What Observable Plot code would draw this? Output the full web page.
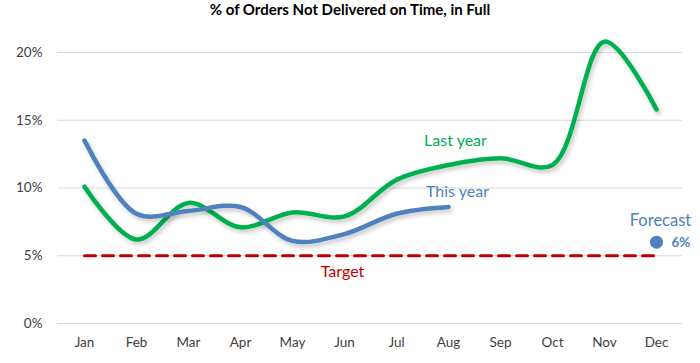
<!DOCTYPE html>
<html>
<head>
<meta charset="utf-8">
<script src="https://cdn.jsdelivr.net/npm/d3@7"></script>
<script src="https://cdn.jsdelivr.net/npm/@observablehq/plot@0.6"></script>
<style>
  body { margin: 0; background: #fff; }
  #title { height: 36px; line-height: 36px; text-align: center; font: bold 15px Lato, "Open Sans", sans-serif; color: #000; }
  #chart svg { display: block; }
</style>
</head>
<body>
<div id="title">% of Orders Not Delivered on Time, in Full</div>
<div id="chart"></div>
<script>
const months = ["Jan","Feb","Mar","Apr","May","Jun","Jul","Aug","Sep","Oct","Nov","Dec"];
const lastYear = [0.101, 0.062, 0.089, 0.071, 0.082, 0.079, 0.106, 0.117, 0.122, 0.117, 0.208, 0.158];
const thisYear = [0.135, 0.081, 0.083, 0.086, 0.061, 0.066, 0.081, 0.086];
const target = 0.05;
const forecastMonth = "Dec";
const forecastValue = 0.06;
const yTicks = [0, 0.05, 0.10, 0.15, 0.20];

const lastData = months.map((m, i) => ({month: m, value: lastYear[i]}));
const thisData = thisYear.map((v, i) => ({month: months[i], value: v}));
const targetData = months.map(m => ({month: m, value: target}));
const forecastData = [{month: forecastMonth, value: forecastValue}];

const green = "#00B050", blue = "#4F81BD", red = "#C00000";
const font = "Lato, 'Open Sans', sans-serif";

const chart = Plot.plot({
  width: 700,
  height: 327,
  marginTop: 16,
  marginBottom: 40,
  marginLeft: 57,
  marginRight: 18,
  style: {fontFamily: font, fontSize: "13px", color: "#404040", background: "#fff"},
  x: {type: "point", domain: months, padding: 0.5, label: null, tickSize: 0, tickPadding: 14},
  y: {domain: [0, 0.2], ticks: yTicks, tickFormat: d => Math.round(d * 100) + "%", label: null, tickSize: 0, tickPadding: 15},
  marks: [
    Plot.ruleY(yTicks, {stroke: "#D9D9D9", strokeWidth: 1.2}),
    Plot.axisX({tickSize: 0, tickPadding: 14, fontSize: 13.5, fill: "#404040"}),
    Plot.axisY({ticks: yTicks, tickFormat: d => Math.round(d * 100) + "%", tickSize: 0, tickPadding: 15, fontSize: 13.5, fill: "#404040"}),
    Plot.line(targetData, {x: "month", y: "value", stroke: red, strokeWidth: 3, strokeDasharray: "11,7"}),
    Plot.line(lastData, {x: "month", y: "value", stroke: green, strokeWidth: 4.5, curve: "catmull-rom", strokeLinecap: "round", className: "shadowed"}),
    Plot.line(thisData, {x: "month", y: "value", stroke: blue, strokeWidth: 4.5, curve: "catmull-rom", strokeLinecap: "round", className: "shadowed"}),
    Plot.dot(forecastData, {x: "month", y: "value", r: 6.5, fill: blue, stroke: "none"}),
    Plot.text(forecastData, {x: "month", y: "value", text: d => Math.round(d.value * 100) + "%", dx: 15, textAnchor: "start", fill: blue, fontWeight: "bold", fontSize: 13.5}),
    Plot.text(forecastData, {x: "month", y: "value", text: () => "Forecast", dx: 4, dy: -21, fill: blue, fontSize: 16.5}),
    Plot.text([lastData[7]], {x: "month", y: "value", text: () => "Last year", dx: 7, dy: -24, fill: green, fontSize: 16}),
    Plot.text([thisData[7]], {x: "month", y: "value", text: () => "This year", dx: 9, dy: -15, fill: blue, fontSize: 16}),
    Plot.text([targetData[5]], {x: "month", y: "value", text: () => "Target", dx: -2, dy: 16, fill: red, fontSize: 16})
  ]
});

// subtle soft shadow like the original
const ns = "http://www.w3.org/2000/svg";
const defs = document.createElementNS(ns, "defs");
defs.innerHTML = '<filter id="sh" x="-10%" y="-10%" width="120%" height="130%"><feGaussianBlur in="SourceAlpha" stdDeviation="2"/><feOffset dx="2" dy="3" result="o"/><feComponentTransfer><feFuncA type="linear" slope="0.22"/></feComponentTransfer><feMerge><feMergeNode/><feMergeNode in="SourceGraphic"/></feMerge></filter>';
chart.insertBefore(defs, chart.firstChild);
chart.querySelectorAll(".shadowed").forEach(g => g.setAttribute("filter", "url(#sh)"));

document.getElementById("chart").appendChild(chart);
</script>
</body>
</html>
